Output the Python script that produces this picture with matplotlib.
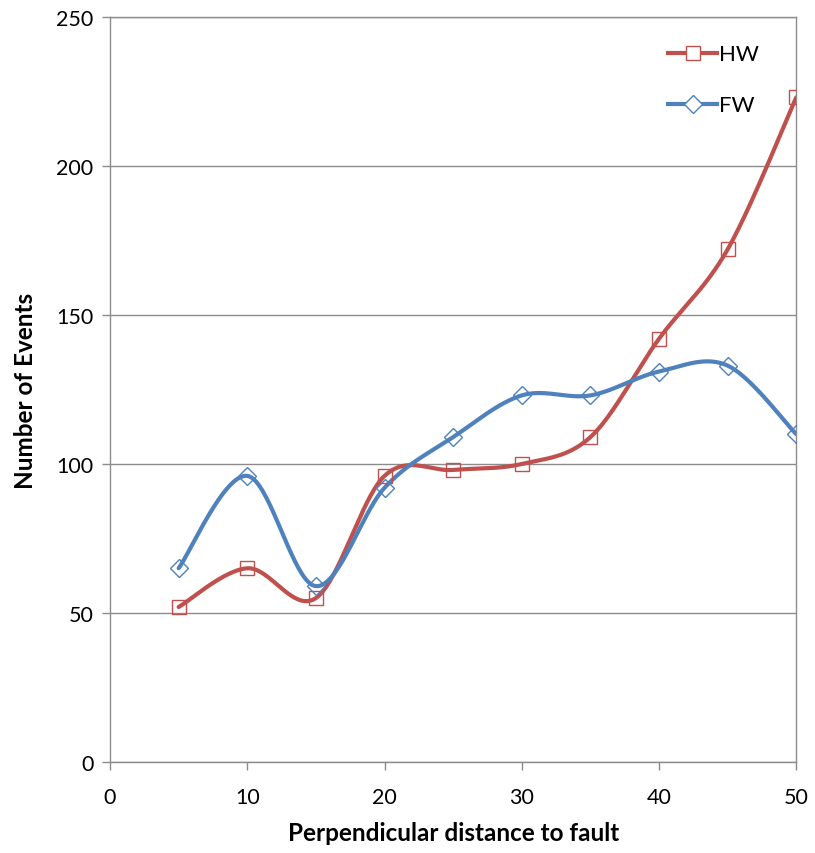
import numpy as np
import matplotlib
matplotlib.use("Agg")
import matplotlib.pyplot as plt
from matplotlib.lines import Line2D

distance = [5, 10, 15, 20, 25, 30, 35, 40, 45, 50]
hw_events = [52, 65, 55, 96, 98, 100, 109, 142, 172, 223]
fw_events = [65, 96, 59, 92, 109, 123, 123, 131, 133, 110]
x_ticks = [0, 10, 20, 30, 40, 50]
y_ticks = [0, 50, 100, 150, 200, 250]

plt.rcParams['font.family'] = ['Lato', 'DejaVu Sans']


def smooth(xs, ys, n=40):
    xs = np.asarray(xs, float)
    ys = np.asarray(ys, float)
    P = np.column_stack([xs, ys])
    out = []
    m = len(P)
    for i in range(m - 1):
        p0 = P[i - 1] if i > 0 else P[i]
        p1 = P[i]
        p2 = P[i + 1]
        p3 = P[i + 2] if i + 2 < m else P[i + 1]
        c1 = p1 + (p2 - p0) / 6.0
        c2 = p2 - (p3 - p1) / 6.0
        t = np.linspace(0, 1, n)[:, None]
        seg = ((1 - t) ** 3) * p1 + 3 * ((1 - t) ** 2) * t * c1 + 3 * (1 - t) * t ** 2 * c2 + t ** 3 * p2
        if i > 0:
            seg = seg[1:]
        out.append(seg)
    out = np.vstack(out)
    return out[:, 0], out[:, 1]


red = '#C0504D'
blue = '#4F81BD'

fig = plt.figure(figsize=(8.15, 8.54), dpi=100)
ax = fig.add_axes([0.135, 0.1066, 0.842, 0.8724])

for ys, col, mk, ms in [(hw_events, red, 's', 10), (fw_events, blue, 'D', 9)]:
    sx, sy = smooth(distance, ys)
    ax.plot(sx, sy, color=col, lw=3.0, solid_capstyle='round', zorder=3)
    ax.plot(distance, ys, ls='none', marker=mk, ms=ms, mfc='none', mec=col, mew=1.0, zorder=4)

ax.set_xlim(0, 50)
ax.set_ylim(0, 250)
ax.set_xticks(x_ticks)
ax.set_yticks(y_ticks)
ax.yaxis.grid(True, color='#8C8C8C', lw=1.0)
ax.set_axisbelow(True)
for s in ax.spines.values():
    s.set_color('#8C8C8C')
    s.set_linewidth(1.0)
ax.tick_params(axis='both', colors='#8C8C8C', labelcolor='black', labelsize=15.5, length=6, width=1.0)
ax.tick_params(axis='x', pad=12)
ax.tick_params(axis='y', pad=6)

ax.set_xlabel('Perpendicular distance to fault', fontsize=17.5, fontweight='bold', labelpad=10)
ax.set_ylabel('Number of Events', fontsize=17.5, fontweight='bold', labelpad=14)

handles = [
    Line2D([], [], color=red, lw=3.0, marker='s', ms=10, mfc='white', mec=red, mew=1.0),
    Line2D([], [], color=blue, lw=3.0, marker='D', ms=9, mfc='white', mec=blue, mew=1.0),
]
ax.legend(handles, ['HW', 'FW'], loc='upper right', bbox_to_anchor=(0.975, 0.99),
          frameon=False, fontsize=16, handlelength=2.2, handletextpad=0.1,
          labelspacing=1.4)

fig.savefig('out.png', dpi=100)
